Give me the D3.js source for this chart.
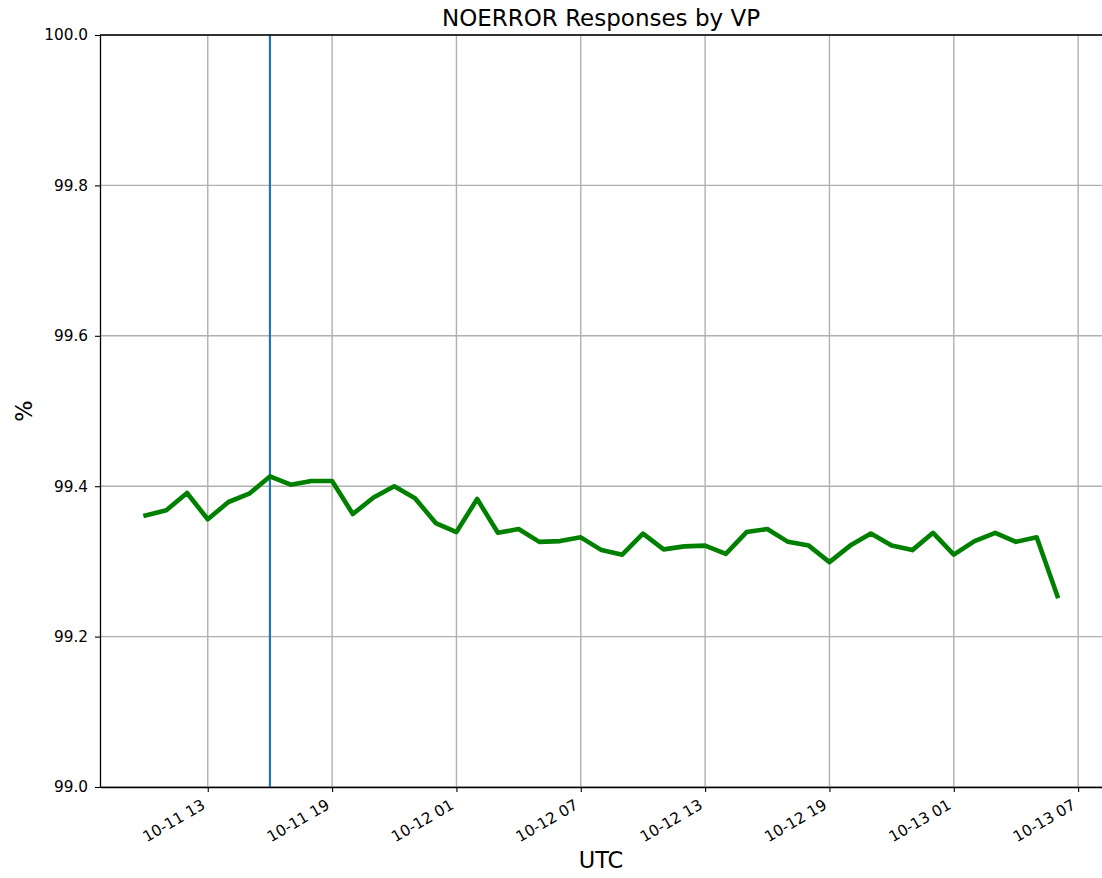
<!DOCTYPE html>
<html>
<head>
<meta charset="utf-8">
<script src="https://cdn.jsdelivr.net/npm/d3@7"></script>
<style>
  body { margin: 0; background: #fff; }
  svg text { font-family: "DejaVu Sans", sans-serif; fill: #000; }
</style>
</head>
<body>
<div id="chart-container"></div>
<script>
// hourly NOERROR share, 10-11 10:00 .. 10-13 06:00 UTC
const startTime = Date.UTC(2018, 9, 11, 10);
const noerrorPct = [
  99.361, 99.368, 99.391, 99.356, 99.379, 99.390, 99.413, 99.402, 99.407, 99.407,
  99.363, 99.385, 99.400, 99.384, 99.351, 99.339, 99.383, 99.338, 99.343, 99.326,
  99.327, 99.332, 99.315, 99.309, 99.337, 99.316, 99.320, 99.321, 99.310, 99.339,
  99.343, 99.326, 99.321, 99.299, 99.321, 99.337, 99.321, 99.315, 99.338, 99.309,
  99.327, 99.338, 99.326, 99.332, 99.254
];
const markerTime = Date.UTC(2018, 9, 11, 16);
const xTickTimes = [
  Date.UTC(2018, 9, 11, 13), Date.UTC(2018, 9, 11, 19), Date.UTC(2018, 9, 12, 1),
  Date.UTC(2018, 9, 12, 7), Date.UTC(2018, 9, 12, 13), Date.UTC(2018, 9, 12, 19),
  Date.UTC(2018, 9, 13, 1), Date.UTC(2018, 9, 13, 7)
];
const yTicks = [99.0, 99.2, 99.4, 99.6, 99.8, 100.0];

let data = noerrorPct.map((v, i) => ({ time: new Date(startTime + i * 3600e3), value: v }));

let fWidth = 1102, fHeight = 878,
  margin = {top: 35, right: -1, bottom: 91, left: 100},
  width = fWidth - margin.left - margin.right,
  height = fHeight - margin.top - margin.bottom;

let svg = d3.select("#chart-container").append("svg")
  .attr("width", fWidth)
  .attr("height", fHeight);

let canvas = svg.append("g")
  .attr("transform", `translate(${margin.left}, ${margin.top})`);

// matplotlib-like 5% margins around the data span
let t0 = data[0].time, t1 = data[data.length - 1].time;
let pad = (t1 - t0) * 0.05;
let xScale = d3.scaleUtc()
  .domain([new Date(+t0 - pad), new Date(+t1 + pad)])
  .range([0, width]);

let yScale = d3.scaleLinear()
  .domain([99.0, 100.0])
  .range([height, 0]);

// grid
canvas.append("g")
  .selectAll("line")
  .data(xTickTimes)
  .enter().append("line")
    .attr("x1", d => xScale(d)).attr("x2", d => xScale(d))
    .attr("y1", 0).attr("y2", height)
    .attr("stroke", "#b0b0b0").attr("stroke-width", 1.4);

canvas.append("g")
  .selectAll("line")
  .data(yTicks)
  .enter().append("line")
    .attr("x1", 0).attr("x2", width)
    .attr("y1", d => yScale(d)).attr("y2", d => yScale(d))
    .attr("stroke", "#b0b0b0").attr("stroke-width", 1.4);

// marker line
canvas.append("line")
  .attr("x1", xScale(markerTime)).attr("x2", xScale(markerTime))
  .attr("y1", 0).attr("y2", height)
  .attr("stroke", "#1f77b4").attr("stroke-width", 2.2);

// series
canvas.append("path")
  .datum(data)
  .attr("fill", "none")
  .attr("stroke", "#008000")
  .attr("stroke-width", 4.6)
  .attr("stroke-linejoin", "round")
  .attr("stroke-linecap", "square")
  .attr("d", d3.line().x(d => xScale(d.time)).y(d => yScale(d.value)));

// axes
let xAxis = canvas.append("g")
  .attr("transform", `translate(0, ${height})`)
  .call(d3.axisBottom(xScale)
    .tickValues(xTickTimes)
    .tickSize(5)
    .tickSizeOuter(0)
    .tickFormat(d3.utcFormat("%m-%d %H")));

xAxis.selectAll("text")
  .style("text-anchor", "end")
  .attr("font-size", "15.3px")
  .attr("y", 0).attr("dy", 0)
  .attr("transform", "translate(-2, 21) rotate(-30)");

let yAxis = canvas.append("g")
  .call(d3.axisLeft(yScale)
    .tickValues(yTicks)
    .tickSize(5)
    .tickSizeOuter(0)
    .tickFormat(d3.format(".1f")));

yAxis.selectAll("text")
  .attr("font-size", "15.3px")
  .attr("x", -12);

[xAxis, yAxis].forEach(a => {
  a.select(".domain").attr("stroke", "#000").attr("stroke-width", 1.3);
  a.selectAll(".tick line").attr("stroke", "#000").attr("stroke-width", 1.1);
  a.selectAll("text").attr("font-family", "DejaVu Sans").attr("fill", "#000");
});

// top spine
canvas.append("line")
  .attr("x1", 0).attr("x2", width)
  .attr("y1", 0).attr("y2", 0)
  .attr("stroke", "#000").attr("stroke-width", 1.3);

// labels
svg.append("text")
  .attr("x", 601).attr("y", 26)
  .attr("text-anchor", "middle")
  .attr("font-size", "23px")
  .text("NOERROR Responses by VP");

svg.append("text")
  .attr("x", 601).attr("y", 868)
  .attr("text-anchor", "middle")
  .attr("font-size", "22.5px")
  .text("UTC");

svg.append("text")
  .attr("transform", "translate(32, 411) rotate(-90)")
  .attr("text-anchor", "middle")
  .attr("font-size", "22.5px")
  .text("%");
</script>
</body>
</html>
